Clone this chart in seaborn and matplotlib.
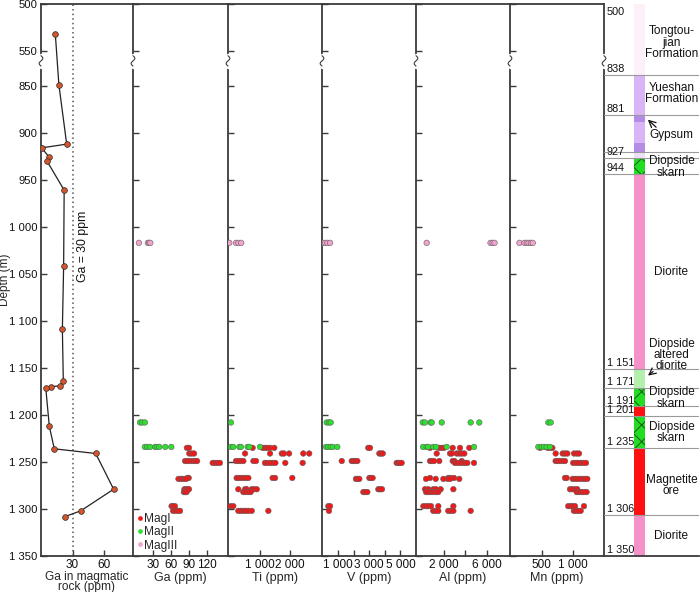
import numpy as np
import pandas as pd
import matplotlib
matplotlib.use("Agg")
import matplotlib.pyplot as plt
import seaborn as sns
from matplotlib.lines import Line2D
import matplotlib.transforms as mtrans

sns.set_theme(style="ticks")
plt.rcParams["font.family"] = ["Liberation Sans", "DejaVu Sans"]
plt.rcParams["hatch.linewidth"] = 0.7

# ---------------- data ----------------
# Ga in magmatic rock (depth profile)
mag_depth = [532, 849, 912, 916, 926, 930, 961, 1042, 1109, 1164, 1169, 1170, 1171,
             1212, 1236, 1241, 1279, 1302, 1308]
mag_ga = [13.6, 17, 24.4, 0.6, 7.9, 5.7, 22, 21.5, 20.3, 21.2, 18, 9.2, 4.5,
          7.9, 12.6, 52, 69, 37.7, 23]

# magnetite generations: depth levels and values per level
magI_levels = [1235, 1241, 1249, 1251, 1267, 1268, 1279, 1282, 1297, 1302]
magII_levels = [1208, 1234]
magIII_levels = [1017]

ga_I = [[86, 89.5], [90, 94, 98], [83, 87, 91, 96, 100, 103], [129, 133, 137, 141],
        [87, 89], [72, 76, 79, 83, 85], [82, 84.5, 87, 89.5], [81, 83, 85.5],
        [60.5, 63, 66], [63, 67, 71, 74.5]]
ga_II = [[8, 11.7, 16], [16, 20, 24.5, 33, 36, 40, 50, 60]]
ga_III = [[6, 21, 23, 25]]

ti_I = [[775, 1105, 1180, 1255, 1345, 1485], [525, 1345, 1730, 1800, 1970, 2435, 2630],
        [230, 305, 385, 470, 800, 885], [1180, 1255, 1345, 1430, 1520, 1845, 2415],
        [250, 305, 385, 470, 555, 635, 1430, 1510, 2075], [],
        [305, 525, 580, 745, 820, 910], [470, 545, 635, 710], [55, 140],
        [305, 385, 470, 545, 635, 745, 1290]]
ti_II = [[65], [65, 140, 340, 390, 610, 670, 1015]]
ti_III = [[10, 230, 310, 400]]

v_I = [[2940, 3050], [3650, 3760, 3870], [1240, 1880, 1980, 2090, 2240],
       [4760, 4870, 4970, 5080], [3010, 3115, 3220], [2150, 2260, 2365],
       [3585, 3690, 3820], [2625, 2730, 2880], [380, 490], [420]]
v_II = [[275, 420, 530], [230, 380, 530, 660, 955]]
v_III = [[20, 170, 320, 490]]

al_I = [[700, 1560, 1790, 2000, 2810, 3490, 4350], [1320, 2560, 2720, 3180, 3420, 3650, 3890],
        [700, 860, 1070, 1560, 2810, 2970, 3650], [3020, 3240, 3490, 3740, 3980, 4170, 4790],
        [700, 2400, 2620, 2930], [330, 1230, 1940, 2340, 2560, 3420],
        [230, 540, 1000, 1260, 1690, 2870], [330, 540, 760, 1000, 1260, 1470],
        [80, 330, 540, 790, 1470, 2870], [1000, 1230, 1470, 2400, 2620, 2870, 4480]]
al_II = [[20, 230, 760, 860, 1790, 4480, 5280], [50, 390, 540, 1000, 1260, 2250, 4790]]
al_III = [[390, 6330, 6520, 6700]]

mn_I = [[475, 595, 633, 670], [722, 833, 870, 907, 1013, 1055, 1092],
        [722, 755, 790, 833, 870], [1000, 1044, 1080, 1118, 1160, 1202],
        [870, 897], [992, 1028, 1064, 1107, 1150, 1187, 1223],
        [949, 985, 1028, 1064], [1055, 1096, 1133, 1170, 1212],
        [921, 959, 990, 1028, 1170], [1011, 1043, 1080, 1118]]
mn_II = [[606, 644], [448, 500, 538, 580, 633]]
mn_III = [[150, 230, 265, 295, 330, 360]]

panel_names = ["Ga (ppm)", "Ti (ppm)", "V (ppm)", "Al (ppm)", "Mn (ppm)"]
panel_data = [(ga_I, ga_II, ga_III), (ti_I, ti_II, ti_III), (v_I, v_II, v_III),
              (al_I, al_II, al_III), (mn_I, mn_II, mn_III)]
groups = ["MagI", "MagII", "MagIII"]

# stratigraphic column
strat_top = [500, 838, 881, 888, 911, 920, 927, 944, 1151, 1171, 1191, 1201, 1235, 1306]
strat_bot = [838, 881, 888, 911, 920, 927, 944, 1151, 1171, 1191, 1201, 1235, 1306, 1350]
strat_color = ["#fcf0f9", "#d9b5f7", "#b48ce6", "#d9b5f7", "#b48ce6", "#eee0f8", "#22dd22",
               "#f590c8", "#b5efae", "#22dd22", "#ff1010", "#22dd22", "#ff1010", "#f590c8"]
strat_hatch = ["", "", "", "", "", "", "xx", "", "", "xx", "", "xx", "", ""]
boundary_depths = [838, 881, 920, 927, 944, 1151, 1171, 1191, 1201, 1235, 1306]
label_depths = [500, 838, 881, 927, 944, 1151, 1171, 1191, 1201, 1235, 1306, 1350]
unit_names = ["Tongtou-\njian\nFormation", "Yueshan\nFormation", "Gypsum", "Diopside\nskarn",
              "Diorite", "Diopside\naltered\ndiorite", "Diopside\nskarn", "Diopside\nskarn",
              "Magnetite\nore", "Diorite"]

tick_depths = [500, 550] + list(range(850, 1351, 50))


# ---------------- helpers ----------------
def tdepth(d):
    d = np.asarray(d, dtype=float)
    return np.where(d <= 550, d, d - 263)


def fmt(v):
    return f"{int(v):,}".replace(",", " ")


def long_df(I, II, III):
    rows = []
    for levels, vals, g in ((magI_levels, I, "MagI"), (magII_levels, II, "MagII"),
                            (magIII_levels, III, "MagIII")):
        for d, vs in zip(levels, vals):
            for v in vs:
                rows.append((v, float(tdepth(d)), g))
    return pd.DataFrame(rows, columns=["value", "t", "group"])


palette = {"MagI": "#f01818", "MagII": "#2ee02e", "MagIII": "#f2a2cc"}
SPINE = "#3a3a3a"

# ---------------- figure ----------------
W, H = 700, 592
fig = plt.figure(figsize=(W / 100, H / 100), dpi=100)
edges = [41, 133, 228, 322, 416, 510, 604, 699]
ytop, ybot = 4, 556
axes = []
for i in range(7):
    ax = fig.add_axes([edges[i] / W, (H - ybot) / H, (edges[i + 1] - edges[i]) / W,
                       (ybot - ytop) / H])
    ax.set_facecolor("white")
    axes.append(ax)

ylim = (float(tdepth(1350)), float(tdepth(500)))
xlims = [(0, 87.4), (-3.8, 154.5), (-33, 3049), (-26, 6000), (-605, 8140), (0, 1487)]
xticks = [([30, 60], ["30", "60"]),
          ([30, 60, 90, 120], ["30", "60", "90", "120"]),
          ([1000, 2000], ["1 000", "2 000"]),
          ([1000, 2000, 3000, 4000, 5000], ["1 000", "", "3 000", "", "5 000"]),
          ([2000, 4000, 6000], ["2 000", "", "6 000"]),
          ([500, 1000], ["500", "1 000"])]

for i, ax in enumerate(axes[:6]):
    ax.set_ylim(*ylim)
    ax.set_xlim(*xlims[i])
    ax.set_yticks(tdepth(tick_depths))
    ax.set_xticks(xticks[i][0])
    ax.set_xticklabels(xticks[i][1])
    ax.tick_params(axis="both", direction="in", length=4, width=1, color=SPINE,
                   labelsize=8.5, pad=2.0, labelcolor="#111")
    ax.tick_params(axis="y", labelleft=(i == 0))
    for s in ("left", "top", "bottom"):
        ax.spines[s].set_color(SPINE)
        ax.spines[s].set_linewidth(1.3)
    ax.spines["right"].set_visible(False)

# panel 1: Ga in magmatic rock
ax1 = axes[0]
ax1.set_yticklabels([fmt(d) for d in tick_depths], fontsize=8.1)
ax1.tick_params(axis="y", pad=2.5)
ax1.set_ylabel("Depth (m)", fontsize=8.5)
ax1.yaxis.set_label_coords(-0.33, 0.5)
ax1.axvline(30, color="#555555", lw=1.1, ls=(0, (1, 2)), zorder=1)
sns.lineplot(x=mag_ga, y=tdepth(mag_depth), sort=False, estimator=None, color="#222222",
             lw=0.9, ax=ax1, zorder=2)
sns.scatterplot(x=mag_ga, y=tdepth(mag_depth), color="#d5552c", edgecolor="#2a2a2a",
                s=17, linewidth=0.5, ax=ax1, zorder=3)
ax1.text(40, float(tdepth(1021)), "Ga = 30 ppm", rotation=90, ha="center", va="center",
         fontsize=8.8, color="#111")
ax1.set_xlabel("Ga in magmatic\nrock (ppm)", fontsize=8.6, labelpad=0.0, linespacing=0.82)

# element panels
for j, ax in enumerate(axes[1:6]):
    df = long_df(*panel_data[j])
    sns.scatterplot(data=df, x="value", y="t", hue="group", hue_order=groups,
                    palette=palette, s=16, linewidth=0.4, edgecolor="#606060",
                    legend=False, ax=ax, zorder=3)
    ax.set_ylabel("")
    ax.set_xlabel(panel_names[j], fontsize=9, labelpad=1.0)

# legend in Ga panel
handles = [Line2D([], [], marker="o", ls="", color=palette[g], markersize=3.4,
                  markeredgewidth=0) for g in groups]
axes[1].legend(handles, groups, loc="lower left", bbox_to_anchor=(-0.03, -0.005),
               frameon=False, handlelength=0.4, handletextpad=0.15, labelspacing=0.1,
               borderpad=0.1, fontsize=8.6)

# stratigraphic column
axs = axes[6]
axs.set_xlim(0, 1)
axs.set_ylim(*ylim)
axs.set_xticks([])
axs.set_yticks([])
axs.spines["top"].set_visible(False)
axs.spines["right"].set_visible(False)
for s in ("left", "bottom"):
    axs.spines[s].set_color(SPINE)
    axs.spines[s].set_linewidth(1.3)

tops = tdepth(strat_top)
bots = tdepth(strat_bot)
for tp, bt, c, h in zip(tops, bots, strat_color, strat_hatch):
    axs.bar(0.376, bt - tp, bottom=tp, width=0.113, color=c, hatch=h,
            edgecolor="#1a5a1a" if h else c, linewidth=0, zorder=2)
for d in boundary_depths:
    axs.axhline(float(tdepth(d)), color="#9a9a9a", lw=0.8, zorder=3)
for d in label_depths:
    axs.text(0.03, float(tdepth(d)) + (3 if d == 500 else -1.0), fmt(d),
             va="top" if d == 500 else "bottom", ha="left", fontsize=7.8, color="#111",
             zorder=4)

unit_t = [541, 595.5, 639.4, 673.4, 784.8, 873.4, 919, 955.5, 1012, 1065.6]
for name, tt in zip(unit_names, unit_t):
    axs.text(0.71, tt, name, ha="center", va="center", fontsize=8.5, linespacing=0.92,
             color="#111", zorder=4)

axs.annotate("", xy=(0.44, float(tdepth(884))), xytext=(0.57, float(tdepth(896))),
             arrowprops=dict(arrowstyle="->", color="#111", lw=0.9), zorder=5)
axs.annotate("", xy=(0.44, float(tdepth(1160))), xytext=(0.54, float(tdepth(1152))),
             arrowprops=dict(arrowstyle="->", color="#111", lw=0.9), zorder=5)

# axis break marks
for ax in axes:
    tr = mtrans.blended_transform_factory(ax.transAxes, ax.transData)
    tt = np.linspace(555, 566, 20)
    xx = 0.02 * (92 / ax.bbox.width) * np.sin(np.pi * (tt - 555) / 5.5)
    ax.plot([0, 0], [554, 567], color="white", lw=2.5, transform=tr, clip_on=False, zorder=6)
    ax.plot(xx, tt, color=SPINE, lw=0.8, transform=tr, clip_on=False, zorder=7)

fig.savefig("out.png", dpi=100)
